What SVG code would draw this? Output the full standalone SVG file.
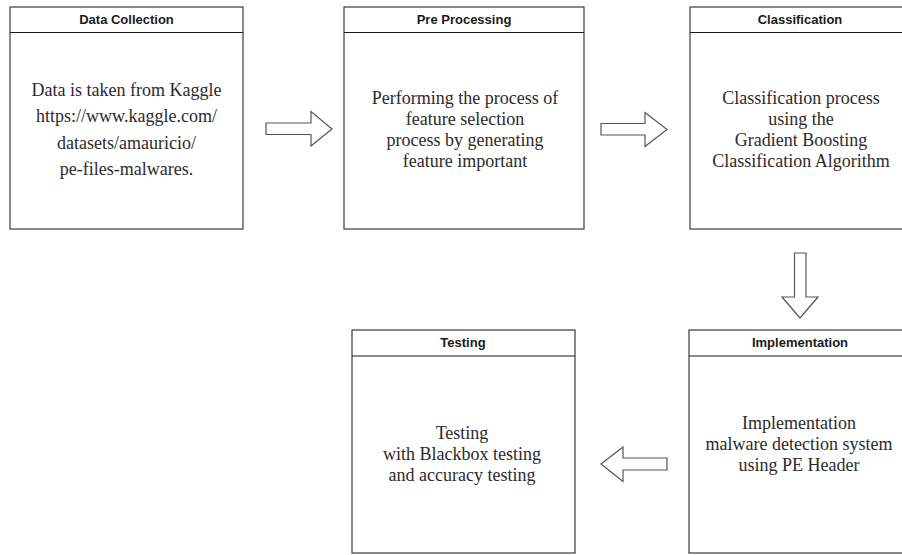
<svg xmlns="http://www.w3.org/2000/svg" width="902" height="555" viewBox="0 0 902 555">
  <style>
    .frame { fill: #ffffff; stroke: #3a3a3a; stroke-width: 1.2; }
    .divider { stroke: #1a1a1a; stroke-width: 1.2; }
    .title { font-family: "Liberation Sans", Arial, sans-serif; font-size: 13px; font-weight: bold; fill: #1a1a1a; text-anchor: middle; }
    .body { font-family: "Liberation Serif", "Times New Roman", serif; font-size: 18px; fill: #2b2b2b; text-anchor: middle; }
    .flow { fill: #ffffff; stroke: #555555; stroke-width: 1.2; stroke-linejoin: miter; }
  </style>

  <rect width="902" height="555" fill="#ffffff"/>

  <!-- Step 1 -->
  <g id="data-collection">
    <rect class="frame" x="10" y="7" width="233" height="222"/>
    <line class="divider" x1="10" y1="32.5" x2="243" y2="32.5"/>
    <text class="title" x="126.5" y="24">Data Collection</text>
    <text class="body" x="126.5" y="95.5">Data is taken from Kaggle</text>
    <text class="body" x="126.5" y="122">https://www.kaggle.com/</text>
    <text class="body" x="126.5" y="148.5">datasets/amauricio/</text>
    <text class="body" x="126.5" y="175">pe-files-malwares.</text>
  </g>

  <!-- Step 2 -->
  <g id="pre-processing">
    <rect class="frame" x="344" y="7" width="240" height="222"/>
    <line class="divider" x1="344" y1="32.5" x2="584" y2="32.5"/>
    <text class="title" x="464" y="24">Pre Processing</text>
    <text class="body" x="465" y="104">Performing the process of</text>
    <text class="body" x="465" y="125">feature selection</text>
    <text class="body" x="465" y="146">process by generating</text>
    <text class="body" x="465" y="167">feature important</text>
  </g>

  <!-- Step 3 -->
  <g id="classification">
    <rect class="frame" x="690" y="7" width="220" height="222"/>
    <line class="divider" x1="690" y1="32.5" x2="910" y2="32.5"/>
    <text class="title" x="800" y="24">Classification</text>
    <text class="body" x="801" y="104">Classification process</text>
    <text class="body" x="801" y="125">using the</text>
    <text class="body" x="801" y="146">Gradient Boosting</text>
    <text class="body" x="801" y="167">Classification Algorithm</text>
  </g>

  <!-- Step 4 -->
  <g id="implementation">
    <rect class="frame" x="689" y="330" width="221" height="223"/>
    <line class="divider" x1="689" y1="356" x2="910" y2="356"/>
    <text class="title" x="800" y="347">Implementation</text>
    <text class="body" x="799" y="429">Implementation</text>
    <text class="body" x="799" y="450">malware detection system</text>
    <text class="body" x="799" y="471">using PE Header</text>
  </g>

  <!-- Step 5 -->
  <g id="testing">
    <rect class="frame" x="352" y="330" width="223" height="223"/>
    <line class="divider" x1="352" y1="356" x2="575" y2="356"/>
    <text class="title" x="463" y="347">Testing</text>
    <text class="body" x="462" y="439">Testing</text>
    <text class="body" x="462" y="460">with Blackbox testing</text>
    <text class="body" x="462" y="481">and accuracy testing</text>
  </g>

  <!-- Block arrows between steps -->
  <g id="connectors">
    <polygon class="flow" points="266,123 311,123 311,111.5 332,129 311,146 311,134.5 266,134.5"/>
    <polygon class="flow" points="601,123.5 645,123.5 645,112.5 667,129.5 645,146.5 645,135 601,135"/>
    <polygon class="flow" points="794.5,253 806,253 806,297 818,297 800,318 782,297 794.5,297"/>
    <polygon class="flow" points="667,458 623,458 623,447 601,464 623,481.5 623,470 667,470"/>
  </g>
</svg>
